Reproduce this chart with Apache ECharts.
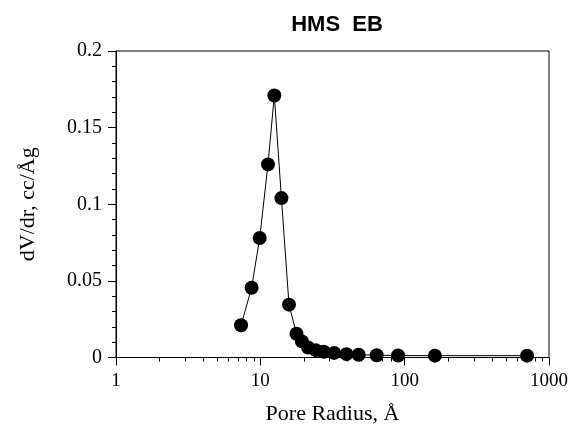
<!DOCTYPE html>
<html><head><meta charset="utf-8">
<script src="https://cdn.jsdelivr.net/npm/echarts@6/dist/echarts.min.js"></script>
<style>html,body{margin:0;padding:0;background:#fff}#c{width:573px;height:431px}</style>
</head><body><div id="c"></div>
<script>
var poreRadius = [7.35, 8.7, 9.9, 11.3, 12.5, 14.0, 15.8, 17.8, 19.4, 21.4, 24.2, 27.5, 32.5, 39.5, 48, 64, 90, 162, 705];
var dVdr = [0.021, 0.0455, 0.078, 0.126, 0.171, 0.104, 0.0345, 0.0155, 0.0105, 0.0065, 0.0048, 0.0038, 0.003, 0.0022, 0.0018, 0.0015, 0.0013, 0.0012, 0.0012];
var xTicks = [1, 10, 100, 1000];
var yTicks = [0, 0.05, 0.1, 0.15, 0.2];

var chart = echarts.init(document.getElementById('c'), null, {renderer: 'canvas'});
var serif = '"Liberation Serif","DejaVu Serif",serif';
var option = {
  animation: false,
  backgroundColor: '#fff',
  title: {
    text: 'HMS  EB', left: 332, top: 9, textAlign: 'center',
    textStyle: {fontFamily: '"Liberation Sans",Arial,sans-serif', fontWeight: 'bold', fontSize: 22, color: '#000'}
  },
  grid: {left: 116, right: 24, top: 51, bottom: 73.5, show: true, borderColor: '#000', borderWidth: 1, backgroundColor: 'transparent'},
  xAxis: {
    type: 'log', logBase: 10, min: xTicks[0], max: xTicks[xTicks.length - 1],
    name: 'Pore Radius, Å', nameLocation: 'middle', nameGap: 46,
    nameTextStyle: {fontFamily: serif, fontSize: 22, color: '#000'},
    axisLine: {show: true, lineStyle: {color: '#000', width: 1}},
    axisTick: {show: true, inside: false, length: 8, lineStyle: {color: '#000'}},
    axisLabel: {margin: 14, fontFamily: serif, fontSize: 19, color: '#000',
      formatter: function (v) { return String(Math.round(v)); }},
    splitLine: {show: false}
  },
  yAxis: {
    type: 'value', min: yTicks[0], max: yTicks[yTicks.length - 1], interval: 0.05,
    name: 'dV/dr, cc/Åg', nameLocation: 'middle', nameGap: 77,
    nameTextStyle: {fontFamily: serif, fontSize: 22, color: '#000'},
    axisLine: {show: true, lineStyle: {color: '#000', width: 1}},
    axisTick: {show: true, inside: false, length: 8, lineStyle: {color: '#000'}},
    minorTick: {show: true, splitNumber: 5, length: 4, lineStyle: {color: '#000'}},
    axisLabel: {margin: 14, fontFamily: serif, fontSize: 20, color: '#000'},
    splitLine: {show: false}
  },
  series: [{
    type: 'line',
    data: poreRadius.map(function (x, i) { return [x, dVdr[i]]; }),
    symbol: 'circle', symbolSize: 14,
    itemStyle: {color: '#000'},
    lineStyle: {color: '#000', width: 1}
  }]
};
chart.setOption(option);

// minor ticks on log x axis at 2..9 of each decade
var els = [];
var y0 = chart.convertToPixel({yAxisIndex: 0}, yTicks[0]);
for (var d = 0; d < xTicks.length - 1; d++) {
  for (var k = 2; k <= 9; k++) {
    var px = chart.convertToPixel({xAxisIndex: 0}, xTicks[d] * k);
    els.push({type: 'line', shape: {x1: Math.round(px) + 0.5, y1: y0, x2: Math.round(px) + 0.5, y2: y0 + 4}, style: {stroke: '#000', lineWidth: 1}, silent: true});
  }
}
chart.setOption({graphic: els});
</script>
</body></html>
